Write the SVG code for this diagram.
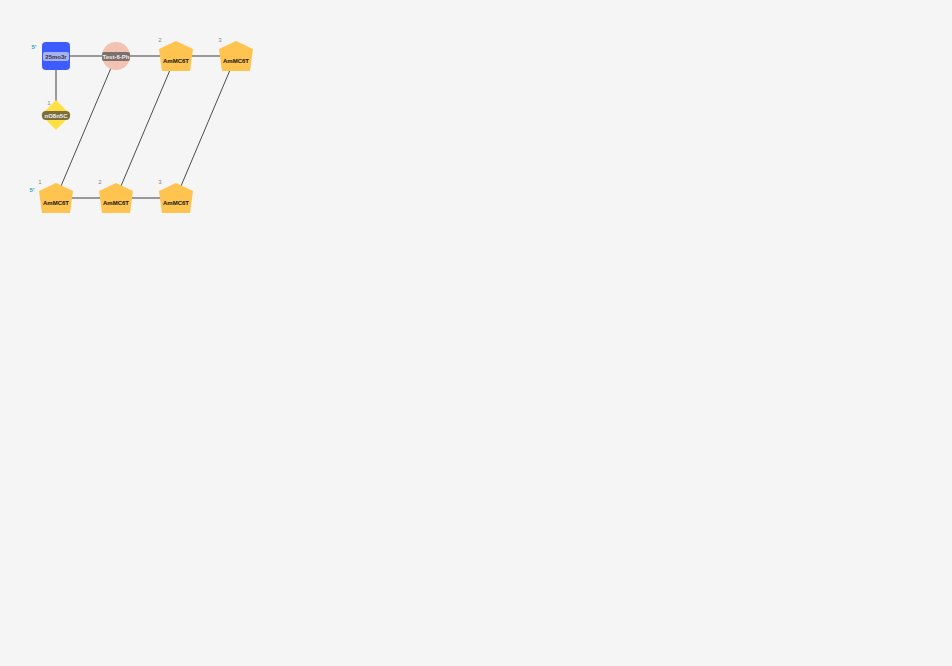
<svg xmlns="http://www.w3.org/2000/svg" width="952" height="666" viewBox="0 0 952 666">
<defs>
<style>
.bg{fill:#f5f5f5}
.bb{stroke:#999;stroke-width:2;fill:none}
.bp{stroke:#222;stroke-width:0.8;fill:none}
.pent{fill:#FFC34F}
.t{font-family:"Liberation Sans",Arial,sans-serif;font-size:6px;font-weight:bold;text-anchor:middle}
.num{font-family:"Liberation Sans",Arial,sans-serif;font-size:6px;fill:#888;text-anchor:middle}
.end{font-family:"Liberation Sans",Arial,sans-serif;font-size:6px;font-weight:bold;fill:#1AA3C8;text-anchor:middle}
</style>
<polygon id="pg" points="0,-15 17,-7 14,15 -14,15 -17,-7"/>
</defs>
<rect class="bg" x="0" y="0" width="952" height="666"/>
<g id="connectors">
<line class="bb" x1="70" y1="56" x2="102" y2="56"/>
<line class="bb" x1="130" y1="56" x2="160" y2="56"/>
<line class="bb" x1="192" y1="56" x2="220" y2="56"/>
<line class="bb" x1="56" y1="70" x2="56" y2="101"/>
<line class="bb" x1="72" y1="198" x2="100" y2="198"/>
<line class="bb" x1="132" y1="198" x2="160" y2="198"/>
<line class="bp" x1="111" y1="68" x2="61" y2="186"/>
<line class="bp" x1="170" y1="70" x2="121" y2="186"/>
<line class="bp" x1="230" y1="70" x2="181" y2="186"/>
</g>
<g id="n-25mo3r">
<rect x="42" y="42" width="28" height="28" rx="4" fill="#3D5CFF"/>
<rect x="43" y="52" width="26" height="9" rx="2" fill="#A6B2F5"/>
<text class="t" x="56" y="59" fill="#333">25mo3r</text>
<text class="end" x="34" y="49">5'</text>
</g>
<g id="n-test6ph">
<circle cx="116" cy="56" r="14" fill="#F2C3B3"/>
<rect x="102" y="52" width="28" height="9" rx="2" fill="#7D706C"/>
<text class="t" x="116" y="59" fill="#eee">Test-6-Ph</text>
</g>
<g id="n-top2">
<use href="#pg" x="176" y="56" class="pent"/>
<text class="t" x="176" y="63" fill="#111">AmMC6T</text>
<text class="num" x="160" y="42">2</text>
</g>
<g id="n-top3">
<use href="#pg" x="236" y="56" class="pent"/>
<text class="t" x="236" y="63" fill="#111">AmMC6T</text>
<text class="num" x="220" y="42">3</text>
</g>
<g id="n-nO8n5C">
<polygon points="56,100 71,115 56,130 41,115" fill="#FFE042"/>
<rect x="42" y="111" width="28" height="9" rx="4" fill="#7C6F3D"/>
<text class="t" x="56" y="118" fill="#eee">nO8n5C</text>
<text class="num" x="49" y="105">1</text>
</g>
<g id="n-bot1">
<use href="#pg" x="56" y="198" class="pent"/>
<text class="t" x="56" y="205" fill="#111">AmMC6T</text>
<text class="num" x="40" y="184">1</text>
<text class="end" x="32" y="192">5'</text>
</g>
<g id="n-bot2">
<use href="#pg" x="116" y="198" class="pent"/>
<text class="t" x="116" y="205" fill="#111">AmMC6T</text>
<text class="num" x="100" y="184">2</text>
</g>
<g id="n-bot3">
<use href="#pg" x="176" y="198" class="pent"/>
<text class="t" x="176" y="205" fill="#111">AmMC6T</text>
<text class="num" x="160" y="184">3</text>
</g>
</svg>
